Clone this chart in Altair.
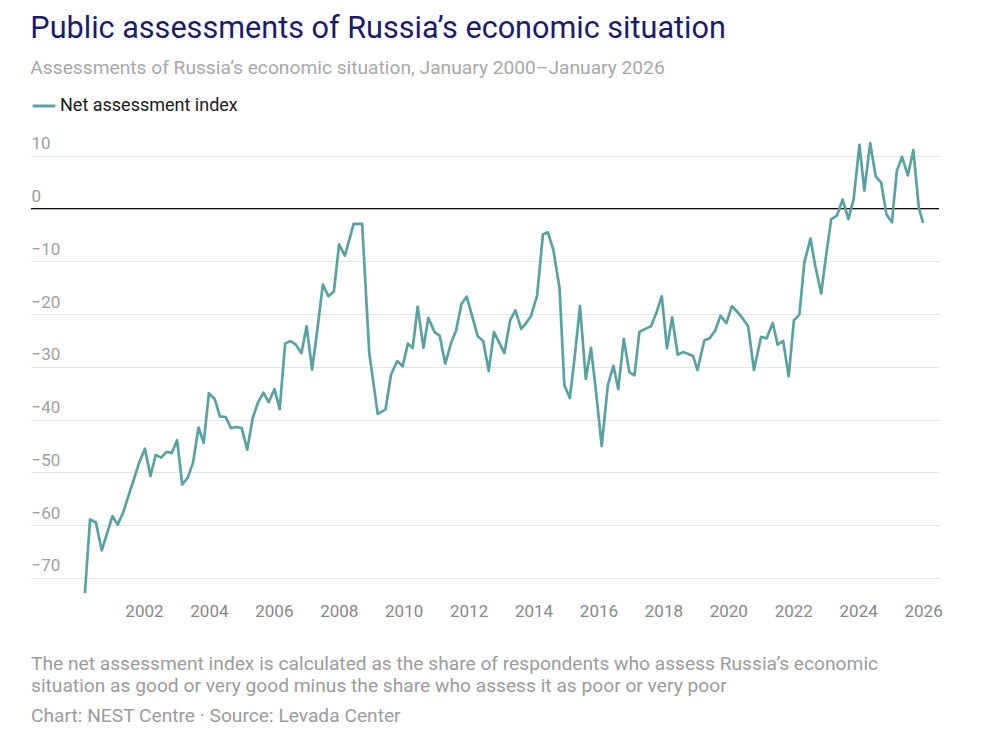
import altair as alt
import pandas as pd

FONT = "Roboto"

# Survey dates (decimal years) and net assessment index values
years = [
    2000.18, 2000.34, 2000.52, 2000.70, 2000.86, 2001.03, 2001.19, 2001.36, 2001.52, 2001.69,
    2001.85, 2002.03, 2002.20, 2002.36, 2002.53, 2002.69, 2002.86, 2003.02, 2003.18, 2003.35,
    2003.51, 2003.68, 2003.84, 2004.00, 2004.18, 2004.34, 2004.52, 2004.68, 2004.85, 2005.01,
    2005.18, 2005.35, 2005.51, 2005.68, 2005.84, 2006.02, 2006.18, 2006.35, 2006.51, 2006.68,
    2006.85, 2007.01, 2007.18, 2007.35, 2007.51, 2007.68, 2007.85, 2008.01, 2008.19, 2008.46,
    2008.72, 2008.94, 2009.20, 2009.44, 2009.61, 2009.80, 2009.97, 2010.13, 2010.28, 2010.43,
    2010.61, 2010.76, 2010.95, 2011.11, 2011.28, 2011.46, 2011.61, 2011.78, 2011.94, 2012.11,
    2012.28, 2012.45, 2012.62, 2012.78, 2012.95, 2013.10, 2013.28, 2013.44, 2013.62, 2013.77,
    2013.92, 2014.11, 2014.29, 2014.44, 2014.61, 2014.80, 2014.95, 2015.12, 2015.28, 2015.43,
    2015.61, 2015.77, 2015.94, 2016.10, 2016.29, 2016.46, 2016.61, 2016.78, 2016.95, 2017.11,
    2017.26, 2017.44, 2017.62, 2017.78, 2017.95, 2018.11, 2018.27, 2018.44, 2018.60, 2018.75,
    2018.92, 2019.05, 2019.26, 2019.42, 2019.59, 2019.76, 2019.94, 2020.11, 2020.27, 2020.43,
    2020.61, 2020.79, 2021.01, 2021.18, 2021.37, 2021.52, 2021.69, 2021.86, 2022.02, 2022.19,
    2022.34, 2022.53, 2022.68, 2022.86, 2023.01, 2023.17, 2023.35, 2023.52, 2023.70, 2023.86,
    2024.04, 2024.19, 2024.37, 2024.54, 2024.71, 2024.87, 2025.04, 2025.19, 2025.35, 2025.53,
    2025.70, 2025.87, 2026.00,
]
values = [
    -72.9, -58.9, -59.5, -64.8, -61.6, -58.3, -59.9, -57.6, -54.5, -51.3,
    -48.2, -45.5, -50.7, -46.7, -47.2, -46.1, -46.3, -43.9, -52.3, -51.0,
    -48.2, -41.5, -44.4, -35.0, -36.1, -39.4, -39.5, -41.6, -41.4, -41.6,
    -45.7, -39.7, -36.8, -34.9, -36.7, -34.2, -38.0, -25.6, -25.1, -25.8,
    -27.4, -22.3, -30.5, -22.5, -14.4, -16.6, -15.7, -6.8, -8.9, -2.9,
    -2.9, -27.4, -38.9, -38.1, -31.5, -28.9, -29.9, -25.6, -26.4, -18.6,
    -26.4, -20.7, -23.4, -24.1, -29.4, -25.5, -23.2, -18.1, -16.7, -20.4,
    -24.2, -25.1, -30.8, -23.4, -25.5, -27.4, -21.2, -19.3, -22.8, -21.7,
    -20.4, -16.5, -4.9, -4.5, -7.8, -15.0, -33.5, -35.9, -27.4, -18.5,
    -32.3, -26.4, -35.6, -45.0, -33.4, -29.8, -34.2, -24.7, -31.0, -31.6,
    -23.4, -22.8, -22.3, -19.8, -16.6, -26.5, -20.6, -27.7, -27.2, -27.5,
    -28.0, -30.6, -25.0, -24.6, -23.2, -20.3, -21.7, -18.5, -19.5, -20.7,
    -22.3, -30.6, -24.3, -24.6, -21.7, -25.8, -25.1, -31.8, -21.2, -20.1,
    -10.3, -5.7, -10.9, -16.1, -9.0, -2.0, -1.3, 1.7, -2.0, 1.8,
    12.1, 3.4, 12.4, 6.1, 4.9, -1.1, -2.6, 7.1, 9.8, 6.3,
    11.1, 0.1, -2.7,
]
series_name = "Net assessment index"

tick_years = list(range(2002, 2027, 2))
y_ticks = list(range(-70, 11, 10))

title_text = "Public assessments of Russia\u2019s economic situation"
subtitle_text = "Assessments of Russia\u2019s economic situation, January 2000\u2013January 2026"
note_line_1 = "The net assessment index is calculated as the share of respondents who assess Russia\u2019s economic"
note_line_2 = "situation as good or very good minus the share who assess it as poor or very poor"
credit_line = "Chart: NEST Centre \u00b7 Source: Levada Center"

W, H = 908, 459

df = pd.DataFrame({"year": years, "value": values, "series": series_name})

x_scale = alt.Scale(domain=[1998.52, 2026.49], nice=False, zero=False)
y_scale = alt.Scale(domain=[-74, 13], nice=False, zero=False)

x_axis = alt.Axis(
    values=tick_years, format="d", title=None, grid=False, ticks=False,
    domain=False, labelFontSize=17, labelColor="#888888", labelPadding=4,
    labelFont=FONT, labelFlush=False,
)
y_axis = alt.Axis(
    values=y_ticks, title=None, grid=True, gridColor="#e4e4e4", gridWidth=1,
    ticks=False, domain=False, labelAlign="left", labelPadding=0,
    labelBaseline="alphabetic", labelOffset=-7, labelFontSize=17,
    labelColor="#a0a0a0", labelFont=FONT,
)

zero_rule = alt.Chart(pd.DataFrame({"v": [0]})).mark_rule(color="#111111", strokeWidth=1.3).encode(
    y=alt.Y("v:Q", scale=y_scale, axis=y_axis)
)

line = alt.Chart(df).mark_line(strokeWidth=2.7, strokeJoin="round").encode(
    x=alt.X("year:Q", scale=x_scale, axis=x_axis),
    y=alt.Y("value:Q", scale=y_scale, axis=y_axis),
    color=alt.Color(
        "series:N",
        scale=alt.Scale(range=["#5aa2a2"]),
        legend=alt.Legend(
            title=None, orient="top", symbolType="stroke", symbolStrokeWidth=3,
            symbolSize=520, labelFontSize=18, labelColor="#1a1a1a", labelFont=FONT,
            offset=25, padding=0, labelOffset=3, labelLimit=500,
        ),
    ),
)


def footer(text, ypos):
    return alt.Chart(pd.DataFrame({"t": [text]})).mark_text(
        align="left", baseline="middle", fontSize=19.2, color="#9c9c9c", font=FONT
    ).encode(x=alt.value(0), y=alt.value(ypos), text="t:N")


chart = alt.layer(
    zero_rule,
    line,
    footer(note_line_1, H + 65),
    footer(note_line_2, H + 87),
    footer(credit_line, H + 117),
).properties(
    width=W,
    height=H,
    background="white",
    padding={"left": 22, "top": 6, "right": 10, "bottom": 2},
    title=alt.TitleParams(
        text=title_text,
        subtitle=subtitle_text,
        anchor="start",
        font=FONT,
        fontSize=30.6,
        fontWeight="normal",
        color="#1b1b6e",
        subtitleFont=FONT,
        subtitleFontSize=19.2,
        subtitleColor="#a8a8a8",
        subtitlePadding=14,
        offset=15,
    ),
).configure_view(strokeWidth=0, stroke=None)

chart.save("out.html", embed_options={"renderer": "svg", "actions": False})
